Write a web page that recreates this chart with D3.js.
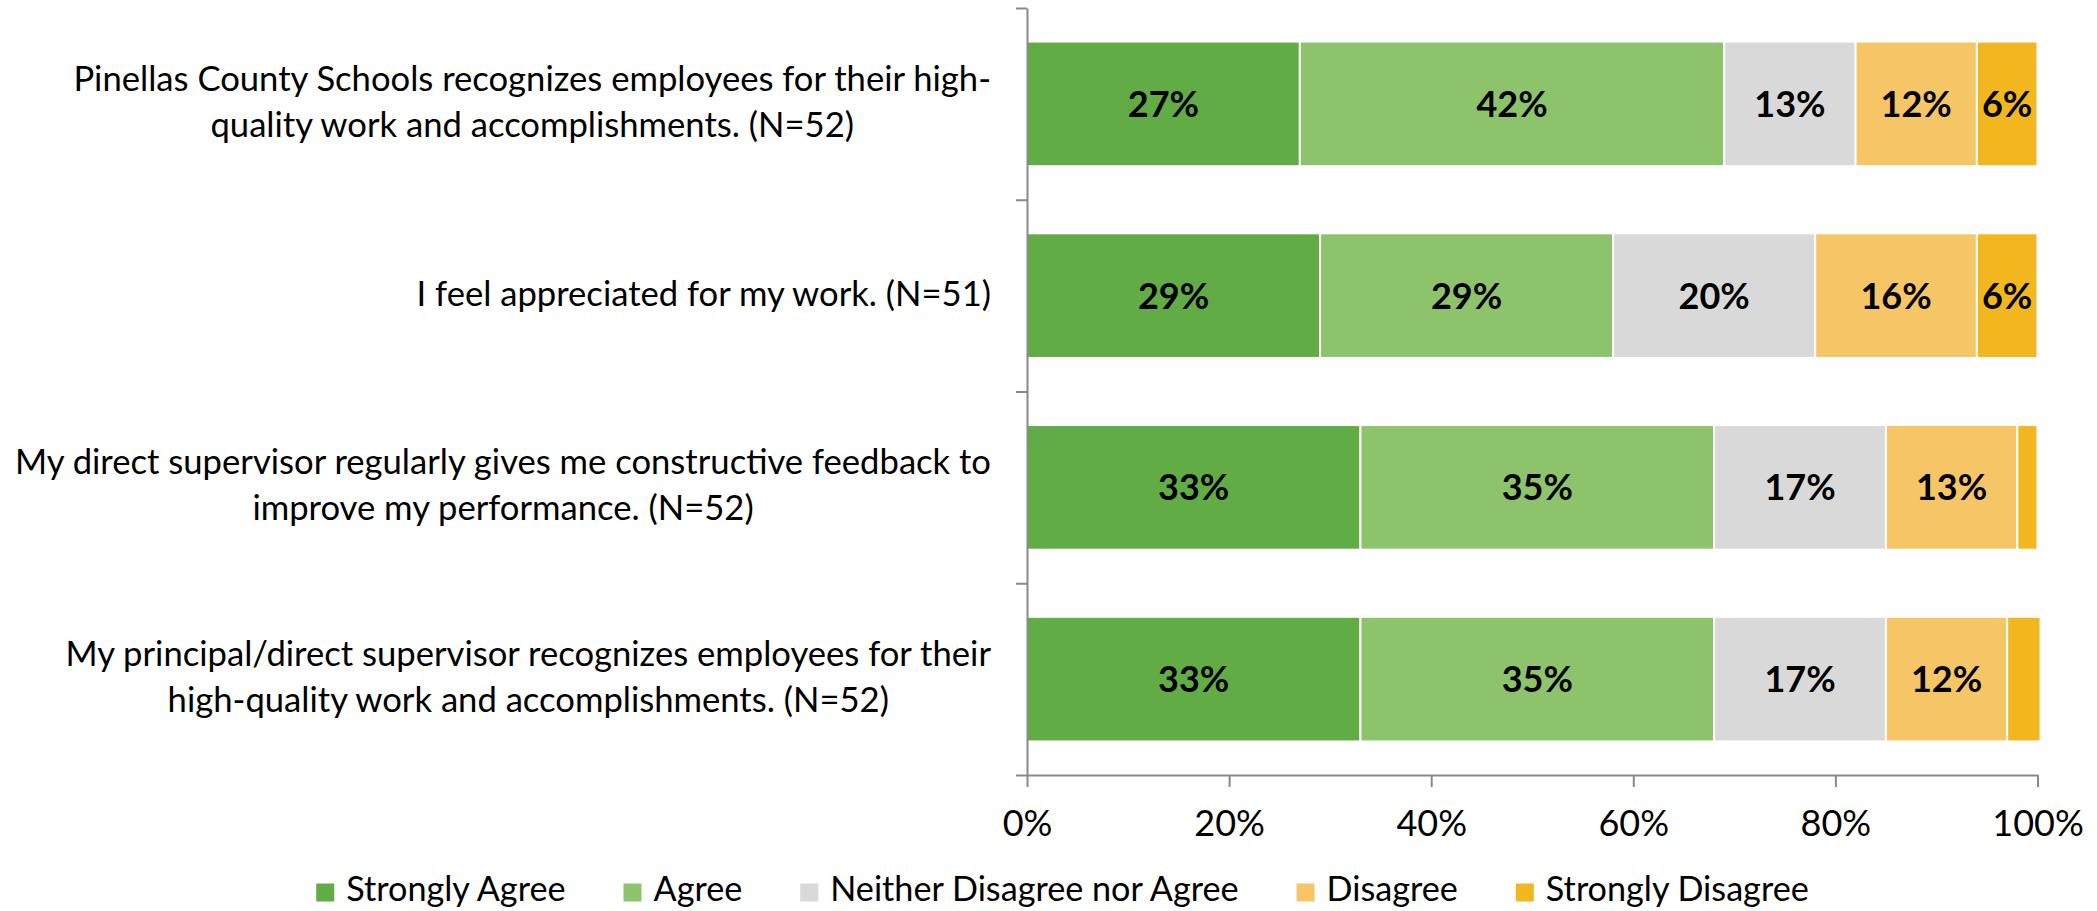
<!DOCTYPE html>
<html>
<head>
<meta charset="utf-8">
<script src="https://cdn.jsdelivr.net/npm/d3@7"></script>
<style>
  html, body { margin: 0; padding: 0; background: #fff; }
  svg { display: block; }
  text { font-family: "Lato", "Open Sans", sans-serif; }
</style>
</head>
<body>
<svg id="chart" width="2097" height="911"></svg>
<script>
const categories = [
  "Pinellas County Schools recognizes employees for their high-\nquality work and accomplishments. (N=52)",
  "I feel appreciated for my work. (N=51)",
  "My direct supervisor regularly gives me constructive feedback to\nimprove my performance. (N=52)",
  "My principal/direct supervisor recognizes employees for their\nhigh-quality work and accomplishments. (N=52)"
];
const seriesNames = ["Strongly Agree", "Agree", "Neither Disagree nor Agree", "Disagree", "Strongly Disagree"];
const stronglyAgree    = [27, 29, 33, 33];
const agree            = [42, 29, 35, 35];
const neither          = [13, 20, 17, 17];
const disagree         = [12, 16, 13, 12];
const stronglyDisagree = [6, 6, 2, 3.3];
const xTicks = [0, 20, 40, 60, 80, 100];
const colors = ["#62AC46", "#8DC36A", "#D9D9D9", "#F6C565", "#F2B71E"];

(function () {
const seriesValues = [stronglyAgree, agree, neither, disagree, stronglyDisagree];
const rows = categories.map((c, i) => {
  const r = { cat: c };
  seriesNames.forEach((s, j) => r[s] = seriesValues[j][i]);
  return r;
});

const svg = d3.select("#chart");
const pLeft = 1027, pRight = 2037.5, pTop = 8, pBottom = 775;
const FS = 36;
const axisColor = "#898989";

const x = d3.scaleLinear().domain([0, 100]).range([pLeft, pRight]);
const y = d3.scaleBand().domain(categories).range([pTop, pBottom]).paddingInner(0.35).paddingOuter(0.175);
const yEdge = d3.scaleLinear().domain([0, categories.length]).range([pTop, pBottom]);

const stacked = d3.stack().keys(seriesNames)(rows);
const color = d3.scaleOrdinal().domain(seriesNames).range(colors);

// bars
const layer = svg.append("g").selectAll("g").data(stacked).join("g")
  .attr("fill", d => color(d.key));
layer.selectAll("rect").data(d => d.map(v => ({ v, key: d.key }))).join("rect")
  .attr("x", d => x(d.v[0]))
  .attr("y", d => y(d.v.data.cat))
  .attr("width", d => x(d.v[1]) - x(d.v[0]))
  .attr("height", y.bandwidth())
  .attr("stroke", "#fff")
  .attr("stroke-width", 2);

// bar labels
layer.selectAll("text").data(d => d.map(v => ({ v, key: d.key })).filter(o => (o.v[1] - o.v[0]) >= 5)).join("text")
  .attr("x", d => (x(d.v[0]) + x(d.v[1])) / 2)
  .attr("y", d => y(d.v.data.cat) + y.bandwidth() / 2)
  .attr("dy", "0.36em")
  .attr("text-anchor", "middle")
  .attr("font-size", FS)
  .attr("font-weight", "bold")
  .attr("fill", "#000")
  .text(d => Math.round(d.v[1] - d.v[0]) + "%");

// left axis (ticks at band boundaries)
const leftAxis = d3.axisLeft(yEdge).tickValues(d3.range(0, categories.length + 1)).tickSize(11).tickSizeOuter(0).tickFormat("");
const gl = svg.append("g").attr("transform", `translate(${pLeft},0)`).call(leftAxis);
gl.select(".domain").attr("stroke", axisColor).attr("stroke-width", 2);
gl.selectAll(".tick line").attr("stroke", axisColor).attr("stroke-width", 2);

// bottom axis
const bottomAxis = d3.axisBottom(x).tickValues(xTicks).tickSize(12).tickSizeOuter(0).tickPadding(23).tickFormat(d => d + "%");
const gb = svg.append("g").attr("transform", `translate(0,${pBottom})`).call(bottomAxis);
gb.select(".domain").attr("stroke", axisColor).attr("stroke-width", 2);
gb.selectAll(".tick line").attr("stroke", axisColor).attr("stroke-width", 2);
gb.selectAll(".tick text").attr("font-size", FS).attr("font-family", "Lato, sans-serif").attr("fill", "#000");

// category labels
const labelRight = 991;
const catG = svg.append("g");
const catTexts = catG.selectAll("text").data(categories).join("text")
  .attr("text-anchor", "middle")
  .attr("fill", "#000")
  .attr("font-size", FS);
catTexts.each(function(c) {
  const lines = c.split("\n");
  const t = d3.select(this);
  lines.forEach((ln, i) => {
    t.append("tspan").attr("data-i", i).attr("data-n", lines.length).text(ln);
  });
});
let maxW = 0;
catG.selectAll("tspan").each(function() { maxW = Math.max(maxW, this.getComputedTextLength()); });
const targetW = 976;
const catFS = Math.min(FS, FS * targetW / maxW);
catTexts.attr("font-size", catFS);
const lineH = 46;
catTexts.each(function(c) {
  const t = d3.select(this);
  let w = 0;
  t.selectAll("tspan").each(function() { w = Math.max(w, this.getComputedTextLength()); });
  const cx = labelRight - w / 2;
  const cy = y(c) + y.bandwidth() / 2;
  t.selectAll("tspan").each(function() {
    const i = +this.getAttribute("data-i"), n = +this.getAttribute("data-n");
    d3.select(this).attr("x", cx).attr("y", cy + 10 + (i - (n - 1) / 2) * lineH);
  });
});

// legend
const legendFS = 34.2;
const legend = svg.append("g");
const items = legend.selectAll("g").data(seriesNames).join("g");
items.append("rect").attr("width", 18).attr("height", 18).attr("y", 883.5).attr("fill", d => color(d));
items.append("text").attr("x", 30).attr("y", 901).attr("font-size", legendFS).attr("fill", "#000").text(d => d);
let cursor = 0;
const positions = [];
items.each(function() {
  const w = d3.select(this).select("text").node().getComputedTextLength();
  positions.push(cursor);
  cursor += 30 + w + 58;
});
const totalW = cursor - 58;
const legendCenter = 1062.5;
const startX = legendCenter - totalW / 2;
items.attr("transform", (d, i) => `translate(${startX + positions[i]},0)`);
})();
</script>
</body>
</html>
